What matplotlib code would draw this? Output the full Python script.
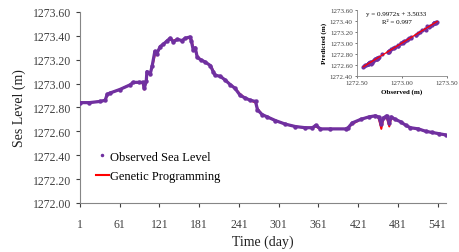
import matplotlib.pyplot as plt
import numpy as np
from matplotlib.lines import Line2D

plt.rcParams['font.family'] = ['Liberation Serif', 'DejaVu Serif']

# observed sea level
days = [1, 15, 31, 39, 42, 46, 61, 77, 81, 90, 96, 98, 101, 102, 107, 110, 114, 117,
        122, 127, 133, 137, 142, 148, 155, 160, 167, 169, 172, 175, 178, 183, 190, 198,
        202, 205, 213, 220, 228, 235, 243, 250, 258, 266, 269, 276, 284, 296, 311, 326,
        341, 352, 357, 364, 379, 402, 406, 412, 425, 437, 447, 452, 456, 459, 464, 468,
        471, 477, 485, 493, 500, 512, 523, 533, 543, 553]
observed = [1272.84, 1272.84, 1272.85, 1272.86, 1272.91, 1272.92, 1272.95, 1272.99, 1273.01,
            1273.01, 1273.01, 1272.96, 1273.02, 1273.10, 1273.08, 1273.15, 1273.27, 1273.25,
            1273.31, 1273.33, 1273.36, 1273.38, 1273.35, 1273.37, 1273.36, 1273.38, 1273.39,
            1273.36, 1273.28, 1273.30, 1273.22, 1273.20, 1273.18, 1273.15, 1273.10, 1273.07,
            1273.06, 1273.03, 1272.99, 1272.96, 1272.90, 1272.88, 1272.86, 1272.85, 1272.78,
            1272.74, 1272.72, 1272.69, 1272.66, 1272.64, 1272.63, 1272.63, 1272.65, 1272.62,
            1272.62, 1272.62, 1272.63, 1272.67, 1272.70, 1272.72, 1272.73, 1272.72, 1272.66,
            1272.71, 1272.73, 1272.67, 1272.72, 1272.70, 1272.68, 1272.65, 1272.63, 1272.62,
            1272.60, 1272.59, 1272.58, 1272.57]
# genetic programming prediction
gp = [1272.84, 1272.84, 1272.85, 1272.86, 1272.90, 1272.92, 1272.95, 1272.99, 1273.01,
      1273.01, 1273.00, 1272.95, 1273.03, 1273.08, 1273.09, 1273.14, 1273.24, 1273.26,
      1273.30, 1273.33, 1273.36, 1273.37, 1273.36, 1273.37, 1273.36, 1273.38, 1273.38,
      1273.37, 1273.30, 1273.29, 1273.23, 1273.20, 1273.18, 1273.15, 1273.11, 1273.07,
      1273.06, 1273.03, 1272.99, 1272.96, 1272.91, 1272.88, 1272.86, 1272.84, 1272.79,
      1272.74, 1272.72, 1272.69, 1272.66, 1272.64, 1272.63, 1272.63, 1272.64, 1272.62,
      1272.62, 1272.62, 1272.63, 1272.66, 1272.70, 1272.72, 1272.73, 1272.71, 1272.62,
      1272.70, 1272.72, 1272.64, 1272.71, 1272.70, 1272.68, 1272.65, 1272.63, 1272.62,
      1272.60, 1272.59, 1272.58, 1272.57]

xticks = [1, 61, 121, 181, 241, 301, 361, 421, 481, 541]
yticks = [1272.0, 1272.2, 1272.4, 1272.6, 1272.8, 1273.0, 1273.2, 1273.4, 1273.6]

purple = '#7030A0'
red = '#FF0000'
grey = '#868686'

fig = plt.figure(figsize=(4.6, 2.53), dpi=100)
ax = fig.add_axes([0.174, 0.194, 0.796, 0.755])

ax.plot(days, gp, color=red, lw=1.4, zorder=2)
ax.plot(days, observed, color=purple, lw=2.3, marker='o', ms=2.2, zorder=3)

ax.set_xlim(1, 554)
ax.set_ylim(1272.0, 1273.6)
ax.set_xticks(xticks)
ax.set_yticks(yticks)
ax.set_yticklabels(['%.2f' % v for v in yticks])
ax.tick_params(labelsize=8.5, colors='#404040', length=3, width=0.8)
ax.tick_params(axis='x', pad=8)
for s in ['top', 'right']:
    ax.spines[s].set_visible(False)
for s in ['left', 'bottom']:
    ax.spines[s].set_color(grey)
ax.set_xlabel('Time (day)', fontsize=10, color='#202020', labelpad=3)
ax.set_ylabel('Ses Level (m)', fontsize=10, color='#202020', labelpad=5)

handles = [Line2D([], [], color=purple, marker='.', ms=3, ls='none'),
           Line2D([], [], color=red, lw=1.5)]
ax.legend(handles, ['Observed Sea Level', 'Genetic Programming'], frameon=False,
          fontsize=9, loc='upper left', bbox_to_anchor=(0.03, 0.3),
          handlelength=1.0, handletextpad=0.1, labelspacing=0.6, borderaxespad=0)

# inset: observed vs predicted
ins = fig.add_axes([0.776, 0.696, 0.196, 0.261])
ins.scatter(observed, gp, s=4, color=purple, zorder=3)
k, b = np.polyfit(observed, gp, 1)
xs = np.array([min(observed), max(observed)])
ins.plot(xs, k * xs + b, color=red, lw=0.9, zorder=4)
ins.set_xlim(1272.5, 1273.5)
ins.set_ylim(1272.4, 1273.6)
ins.set_xticks([1272.5, 1273.0, 1273.5])
ins.set_xticklabels(['1272.50', '1273.00', '1273.50'])
ins.set_yticks([1272.4, 1272.6, 1272.8, 1273.0, 1273.2, 1273.4, 1273.6])
ins.set_yticklabels(['%.2f' % v for v in ins.get_yticks()])
ins.tick_params(labelsize=5, colors='#404040', length=1.5, width=0.5, pad=1.5)
for s in ['top', 'right']:
    ins.spines[s].set_visible(False)
for s in ['left', 'bottom']:
    ins.spines[s].set_color(grey)
    ins.spines[s].set_linewidth(0.6)
ins.set_xlabel('Observed (m)', fontsize=5, fontweight='bold', labelpad=2)
ins.set_ylabel('Predicted (m)', fontsize=5, fontweight='bold', labelpad=2)
ins.text(0.1, 0.98, 'y = 0.9972x + 3.5033', transform=ins.transAxes, fontsize=5, va='top')
ins.text(0.28, 0.86, 'R² = 0.997', transform=ins.transAxes, fontsize=5, va='top')

fig.savefig('out.png', dpi=100)
